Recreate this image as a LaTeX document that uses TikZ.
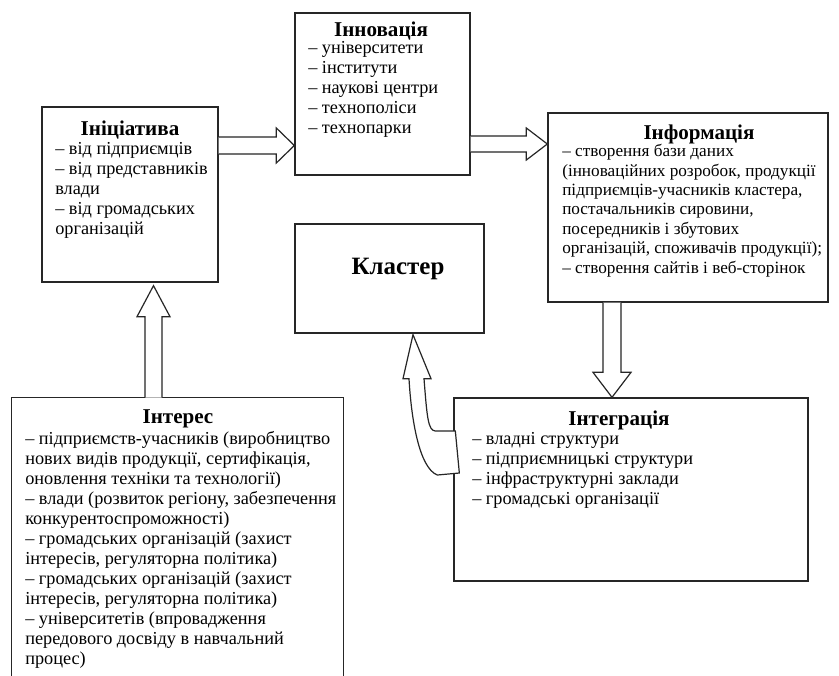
\documentclass[tikz,border=0pt]{standalone}
\usepackage{fontspec}
\setmainfont{Liberation Serif}
\usetikzlibrary{fit,calc}
\begin{document}
\begin{tikzpicture}[x=0.75pt,y=-0.75pt,
  box/.style={draw=black!85, line width=1pt, inner sep=0pt},
  ttl/.style={font=\bfseries\fontsize{15.8}{18}\selectfont, inner sep=0pt, anchor=center},
  body/.style={align=left, anchor=north west, inner sep=0pt, font=\fontsize{13.7}{15}\selectfont},
  blk/.style={draw=black!85, line width=0.9pt, fill=white, line join=miter}]
\clip (0,0) rectangle (839,675);
\fill[white] (0,0) rectangle (839,675);
% boxes
\node[box, fit={(42,107) (218,282)}] (ini) {};
\node[box, fit={(295,13) (470,175)}] (inn) {};
\node[box, fit={(548,113) (828,302)}] (inf) {};
\node[box, fit={(295,224) (484,333)}] (kl) {};
\node[box, fit={(454,398) (808,581)}] (itg) {};
\node[inner sep=0pt, fit={(12,398) (343,700)}] (itr) {};
\draw[black!85, line width=1pt] (itr.south west) -- (itr.north west) -- (itr.north east) -- (itr.south east);
% texts
\node[ttl] (iniT) at (130,130) {Ініціатива};
\node[body] (iniB) at (55,142) {– від підприємців\\– від представників\\влади\\– від громадських\\організацій};
\node[ttl] (innT) at (381,31) {Інновація};
\node[body] (innB) at (308,41) {– університети\\– інститути\\– наукові центри\\– технополіси\\– технопарки};
\node[ttl] (infT) at (699,134) {Інформація};
\node[body, font=\fontsize{12.9}{14.6}\selectfont] (infB) at (562,144) {– створення бази даних\\(інноваційних розробок, продукції\\підприємців-учасників кластера,\\постачальників сировини,\\посередників і збутових\\організацій, споживачів продукції);\\– створення сайтів і веб-сторінок};
\node[font=\bfseries\fontsize{18.7}{21}\selectfont, inner sep=0pt] (klT) at (398,269) {Кластер};
\node[ttl] (itgT) at (619,420) {Інтеграція};
\node[body] (itgB) at (472,432) {– владні структури\\– підприємницькі структури\\– інфраструктурні заклади\\– громадські організації};
\node[ttl] (itrT) at (178,419) {Інтерес};
\node[body] (itrB) at (25,431) {– підприємств-учасників (виробництво\\нових видів продукції, сертифікація,\\оновлення техніки та технології)\\– влади (розвиток регіону, забезпечення\\конкурентоспроможності)\\– громадських організацій (захист\\інтересів, регуляторна політика)\\– громадських організацій (захист\\інтересів, регуляторна політика)\\– університетів (впровадження\\передового досвіду в навчальний\\процес)};
% block arrows
\coordinate (a1s) at (ini.east |- 0,145.5);
\coordinate (a1e) at (inn.west |- 0,145.5);
\draw[blk] ($(a1s)+(0,-8.5)$) -- ($(a1e)+(-18,-8.5)$) -- ($(a1e)+(-18,-17.5)$) -- (a1e) -- ($(a1e)+(-18,17.5)$) -- ($(a1e)+(-18,8.5)$) -- ($(a1s)+(0,8.5)$);
\coordinate (a2s) at (inn.east |- 0,144);
\coordinate (a2e) at (inf.west |- 0,144);
\draw[blk] ($(a2s)+(0,-8)$) -- ($(a2e)+(-21,-8)$) -- ($(a2e)+(-21,-16)$) -- (a2e) -- ($(a2e)+(-21,16)$) -- ($(a2e)+(-21,8)$) -- ($(a2s)+(0,8)$);
\coordinate (a3s) at (inf.south -| 612,0);
\coordinate (a3e) at (itg.north -| 612,0);
\draw[blk] ($(a3s)+(-9,0)$) -- ($(a3e)+(-9,-25)$) -- ($(a3e)+(-19,-25)$) -- (a3e) -- ($(a3e)+(19,-25)$) -- ($(a3e)+(9,-25)$) -- ($(a3s)+(9,0)$);
\coordinate (a4s) at (itr.north -| 153.5,0);
\coordinate (a4e) at ($(ini.south -| 153.5,0)+(0,3)$);
\draw[blk] ($(a4s)+(-8.5,0)$) -- ($(a4e)+(-8.5,31)$) -- ($(a4e)+(-16.5,31)$) -- (a4e) -- ($(a4e)+(16.5,31)$) -- ($(a4e)+(8.5,31)$) -- ($(a4s)+(8.5,0)$);
% curved arrow from Integration to Cluster
\coordinate (a5e) at ($(kl.south -| 413,0)+(0,1)$);
\coordinate (a5s) at (itg.west |- 0,452);
\draw[blk] (a5e) -- ($(a5e)+(18,44)$) -- ($(a5e)+(11,44)$)
  .. controls ($(a5e)+(14,82)$) and ($(a5e)+(15,96)$) .. ($(a5s)+(-18,-21)$)
  -- ($(a5s)+(2,-21)$) -- ($(a5s)+(6,21)$) -- ($(a5s)+(-16,23)$)
  .. controls ($(a5s)+(-34,16)$) and ($(a5s)+(-42,-32)$) .. ($(a5e)+(-4,44)$)
  -- ($(a5e)+(-10,44)$) -- cycle;
\end{tikzpicture}
\end{document}
